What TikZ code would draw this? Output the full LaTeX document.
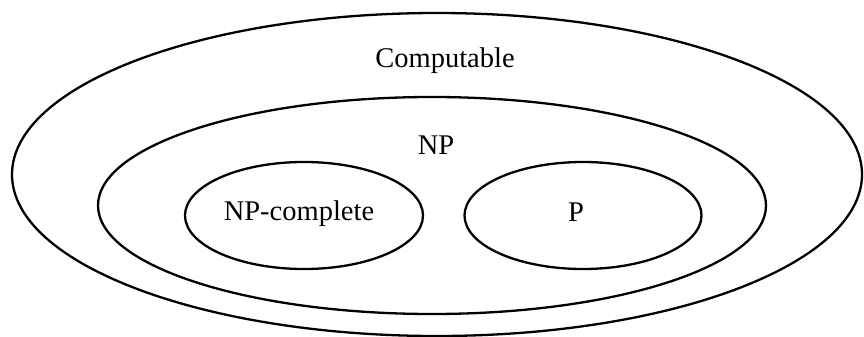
\documentclass[tikz,border=0pt]{standalone}
\usepackage{fontspec}
\setmainfont{Liberation Serif}
\usetikzlibrary{shapes.geometric, positioning}

\begin{document}
\begin{tikzpicture}[x=1pt, y=-1pt,
  set/.style={ellipse, draw, line width=2.3pt, inner sep=0pt},
  lbl/.style={font=\fontsize{28.5}{34}\selectfont, inner sep=0pt, anchor=base}]
\useasboundingbox (0,0) rectangle (864,337);
% sets
\node[set, minimum width=850pt, minimum height=323pt] (comp) at (437,174.5) {};
\node[set, minimum width=668pt, minimum height=217pt] (np) at (432,205.5) {};
\node[set, minimum width=238pt, minimum height=107pt] (npc) at (304,215.5) {};
\node[set, minimum width=237pt, minimum height=107pt] (p) at (583,215.5) {};
% labels
\node[lbl] (complabel) at (445,67) {Computable};
\node[lbl] (nplabel) at (436,154) {NP};
\node[lbl] (npclabel) at (299,220) {NP-complete};
\node[lbl] (plabel) at (576,221) {P};
\end{tikzpicture}
\end{document}
